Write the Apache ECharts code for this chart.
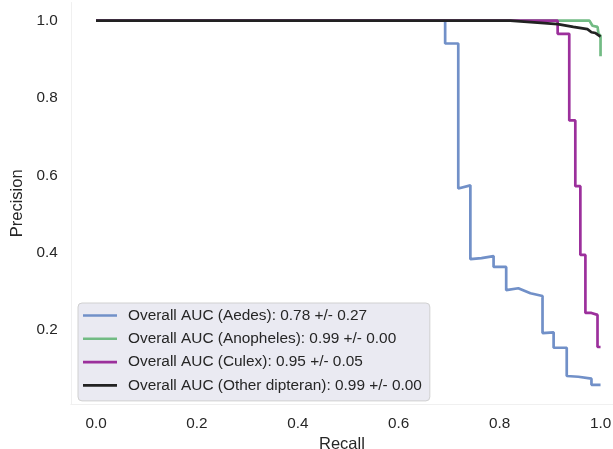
<!DOCTYPE html>
<html>
<head>
<meta charset="utf-8">
<script src="https://cdn.jsdelivr.net/npm/echarts@6/dist/echarts.min.js"></script>
<style>
html,body{margin:0;padding:0;background:#fff;}
#chart{width:613px;height:449px;}
</style>
</head>
<body>
<div id="chart"></div>
<script>
// ---- data ----
const seriesNames = [
  'Overall AUC (Aedes): 0.78 +/- 0.27',
  'Overall AUC (Anopheles): 0.99 +/- 0.00',
  'Overall AUC (Culex): 0.95 +/- 0.05',
  'Overall AUC (Other dipteran): 0.99 +/- 0.00'
];
const aedesRecall    = [0.0, 0.692, 0.692, 0.718, 0.718, 0.742, 0.742, 0.764, 0.764, 0.788, 0.788, 0.813, 0.813, 0.837, 0.861, 0.885, 0.885, 0.907, 0.907, 0.933, 0.933, 0.956, 0.982, 0.982, 1.0];
const aedesPrecision = [1.0, 1.0, 0.941, 0.941, 0.566, 0.574, 0.383, 0.386, 0.391, 0.391, 0.363, 0.363, 0.303, 0.308, 0.295, 0.288, 0.192, 0.194, 0.154, 0.154, 0.081, 0.079, 0.074, 0.058, 0.058];
const anophRecall    = [0.0, 0.978, 0.984, 0.994, 0.996, 1.0, 1.0];
const anophPrecision = [1.0, 1.0, 0.987, 0.984, 0.966, 0.961, 0.908];
const culexRecall    = [0.0, 0.915, 0.915, 0.938, 0.938, 0.950, 0.950, 0.960, 0.960, 0.970, 0.970, 0.982, 0.982, 0.994, 0.994, 1.0];
const culexPrecision = [1.0, 1.0, 0.966, 0.966, 0.742, 0.742, 0.572, 0.572, 0.394, 0.394, 0.244, 0.244, 0.239, 0.239, 0.156, 0.156];
const otherRecall    = [0.0, 0.821, 0.875, 0.915, 0.946, 0.974, 0.982, 0.990, 1.0];
const otherPrecision = [1.0, 1.0, 0.995, 0.991, 0.984, 0.978, 0.970, 0.968, 0.959];
const xTicks = [0.0, 0.2, 0.4, 0.6, 0.8, 1.0];
const yTicks = [0.2, 0.4, 0.6, 0.8, 1.0];
const colors = ['#7190c8', '#72bb84', '#9c309c', '#222222'];

function zip(a, b) { return a.map((v, i) => [v, b[i]]); }
const allData = [
  zip(aedesRecall, aedesPrecision),
  zip(anophRecall, anophPrecision),
  zip(culexRecall, culexPrecision),
  zip(otherRecall, otherPrecision)
];

const font = 'Liberation Sans, Arial, sans-serif';
const lineIcon = 'path://M0,0 L34,0 L34,2.6 L0,2.6 Z';
const chart = echarts.init(document.getElementById('chart'), null, {renderer: 'canvas'});
chart.setOption({
  animation: false,
  backgroundColor: '#ffffff',
  color: colors,
  grid: {left: 70.8, top: 2.5, width: 542.2, height: 401.7, containLabel: false, outerBoundsMode: 'none'},
  xAxis: {
    type: 'value', min: -0.05, max: 1.0247,
    name: 'Recall', nameLocation: 'middle', nameGap: 30,
    nameTextStyle: {fontFamily: font, fontSize: 16.5, color: '#262626'},
    axisLine: {show: true, onZero: false, lineStyle: {color: '#f0f0f0', width: 1}},
    axisTick: {show: false},
    splitLine: {show: false},
    axisLabel: {customValues: xTicks, formatter: v => v.toFixed(1), fontFamily: font, fontSize: 15.3, color: '#262626', margin: 12}
  },
  yAxis: {
    type: 'value', min: 0.008, max: 1.047,
    name: 'Precision', nameLocation: 'middle', nameGap: 40,
    nameTextStyle: {fontFamily: font, fontSize: 16.5, color: '#262626'},
    axisLine: {show: true, onZero: false, lineStyle: {color: '#f0f0f0', width: 1}},
    axisTick: {show: false},
    splitLine: {show: false},
    axisLabel: {customValues: yTicks, formatter: v => v.toFixed(1), fontFamily: font, fontSize: 15.3, color: '#262626', margin: 13}
  },
  legend: {
    orient: 'vertical', left: 78, top: 303,
    backgroundColor: '#eaeaf2', borderColor: '#d0d0d0', borderWidth: 1, borderRadius: 4,
    padding: [5, 8, 8, 5],
    itemWidth: 34, itemHeight: 14, itemGap: 8.3,
    symbolKeepAspect: true,
    textStyle: {fontFamily: font, fontSize: 15.4, color: '#262626', lineHeight: 14, padding: [0, 0, 0, 6]},
    data: seriesNames.map((n, i) => ({name: n, icon: lineIcon, itemStyle: {color: colors[i]}}))
  },
  series: seriesNames.map((n, i) => ({
    name: n, type: 'line', data: allData[i], showSymbol: false, symbol: 'none',
    lineStyle: {width: 2.7, color: colors[i]}, itemStyle: {color: colors[i]}, z: 2 + i
  }))
});
</script>
</body>
</html>
